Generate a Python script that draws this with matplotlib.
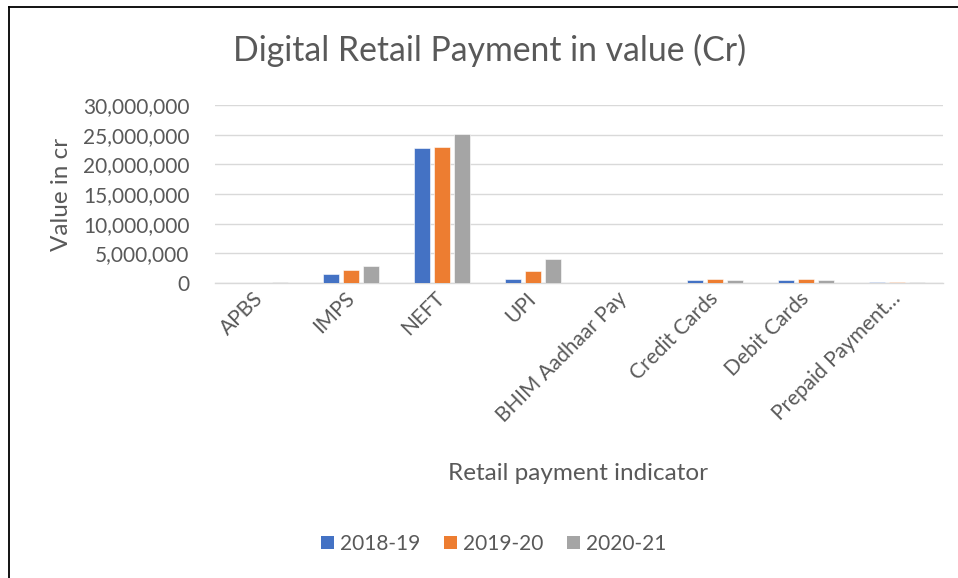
import matplotlib
matplotlib.use("Agg")
import matplotlib.pyplot as plt
from matplotlib.lines import Line2D
from matplotlib.patches import Patch
from matplotlib.ticker import FuncFormatter, MultipleLocator
import numpy as np

categories = ["APBS", "IMPS", "NEFT", "UPI", "BHIM Aadhaar Pay",
              "Credit Cards", "Debit Cards", "Prepaid Payment\u2026"]
series_names = ["2018-19", "2019-20", "2020-21"]
v_2018_19 = [60000, 1450000, 22750000, 750000, 100, 500000, 450000, 120000]
v_2019_20 = [80000, 2200000, 22900000, 2000000, 800, 600000, 600000, 120000]
v_2020_21 = [90000, 2850000, 25100000, 4000000, 2000, 550000, 550000, 110000]
colors = ["#4472C4", "#ED7D31", "#A5A5A5"]

TXT = "#595959"
FONT = "Lato"
plt.rcParams["font.family"] = [FONT, "DejaVu Sans"]

W, H = 958, 578
fig = plt.figure(figsize=(W / 100, H / 100), dpi=100)
fig.patch.set_facecolor("white")

left, right, top, bottom = 214.5, 942.5, 105, 283
ax = fig.add_axes([left / W, 1 - bottom / H, (right - left) / W, (bottom - top) / H])

x = np.arange(len(categories))
bw = 0.175
step = 0.22
for i, (vals, name, c) in enumerate(zip([v_2018_19, v_2019_20, v_2020_21], series_names, colors)):
    ax.bar(x + (i - 1) * step, vals, width=bw, color=c, label=name,
           edgecolor="white", linewidth=0.4, zorder=3)

ax.set_xlim(-0.5, len(categories) - 0.5)
ax.set_ylim(0, 30000000)
ax.yaxis.set_major_locator(MultipleLocator(5000000))
ax.yaxis.set_major_formatter(FuncFormatter(lambda v, p: f"{int(v):,}"))
ax.yaxis.grid(True, color="#D9D9D9", linewidth=1.0, zorder=0)
ax.set_axisbelow(True)
for s in ["top", "right", "left"]:
    ax.spines[s].set_visible(False)
ax.spines["bottom"].set_color("#D9D9D9")
ax.spines["bottom"].set_linewidth(1.0)

ax.tick_params(axis="y", length=0, pad=18, labelsize=15, labelcolor=TXT)
ax.tick_params(axis="x", length=0, pad=9, labelsize=15, labelcolor=TXT)
ax.set_xticks(x)
ax.set_xticklabels(categories, rotation=45, ha="right", va="center", rotation_mode="anchor")

fig.text(61 / W, 1 - 194 / H, "Value in cr", fontsize=17.5, color=TXT,
         ha="center", va="center", rotation=90)
fig.text(578 / W, 1 - 473 / H, "Retail payment indicator", fontsize=17.5, color=TXT,
         ha="center", va="center")
fig.text(490 / W, 1 - 50 / H, "Digital Retail Payment in value (Cr)", fontsize=24.3,
         color=TXT, ha="center", va="center")

handles = [Patch(facecolor=c, edgecolor="none") for c in colors]
fig.legend(handles, series_names, loc="center", bbox_to_anchor=(494 / W, 1 - 544 / H),
           ncol=3, frameon=False, fontsize=15, labelcolor=TXT, handlelength=0.6,
           handleheight=0.6, handletextpad=0.3, columnspacing=1.15)

# chart border (top and left edges visible)
fig.add_artist(Line2D([8.5 / W, 8.5 / W], [0, 1 - 6.5 / H], color="black", lw=1.3,
                      transform=fig.transFigure))
fig.add_artist(Line2D([8.5 / W, 1], [1 - 6.5 / H, 1 - 6.5 / H], color="black", lw=1.3,
                      transform=fig.transFigure))

fig.savefig("out.png", dpi=100, facecolor="white")
